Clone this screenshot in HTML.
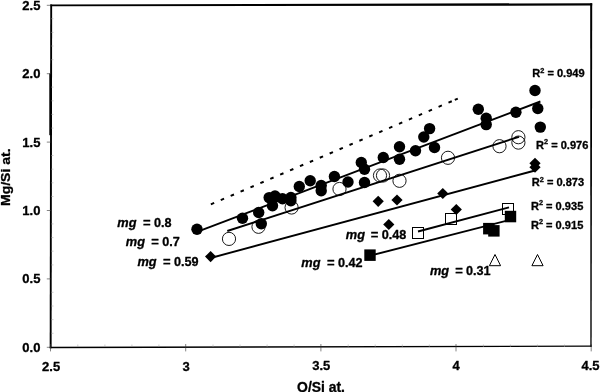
<!DOCTYPE html>
<html><head><meta charset="utf-8"><title>Mg/Si vs O/Si</title>
<style>html,body{margin:0;padding:0;background:#fff}body{width:600px;height:392px;overflow:hidden}svg{display:block}</style>
</head><body>
<svg width="600" height="392" viewBox="0 0 600 392">
<rect width="600" height="392" fill="#fff"/>
<g fill="#000">
<polygon points="50.25,4.6 592.2,3.15 592.2,5.55 50.25,6.3"/>
<polygon points="590.2,3.2 592.2,3.2 591.65,346.8 590.35,346.8"/>
<polygon points="49.7,346.65 591.65,345.45 591.65,346.75 49.7,348.35"/>
<polygon points="50.25,4.6 52.15,4.6 51.6,348.3 49.7,348.3"/>
<rect x="49.3" y="73.5" width="2.6" height="61.7"/>
</g>
<g stroke="#999" stroke-width="0.5">
<line x1="50.5" y1="344" x2="50.5" y2="351.4" stroke="#333" stroke-width="0.6"/>
<line x1="77.8" y1="344.5" x2="77.8" y2="347"/>
<line x1="104.9" y1="344.5" x2="104.9" y2="347"/>
<line x1="131.9" y1="344.5" x2="131.9" y2="347"/>
<line x1="158.9" y1="344.5" x2="158.9" y2="347"/>
<line x1="185.7" y1="344" x2="185.7" y2="351.4" stroke="#333" stroke-width="0.6"/>
<line x1="213.0" y1="344.5" x2="213.0" y2="347"/>
<line x1="240.0" y1="344.5" x2="240.0" y2="347"/>
<line x1="267.1" y1="344.5" x2="267.1" y2="347"/>
<line x1="294.1" y1="344.5" x2="294.1" y2="347"/>
<line x1="320.9" y1="344" x2="320.9" y2="351.4" stroke="#333" stroke-width="0.6"/>
<line x1="348.2" y1="344.5" x2="348.2" y2="347"/>
<line x1="375.2" y1="344.5" x2="375.2" y2="347"/>
<line x1="402.3" y1="344.5" x2="402.3" y2="347"/>
<line x1="429.3" y1="344.5" x2="429.3" y2="347"/>
<line x1="456.0" y1="344" x2="456.0" y2="351.4" stroke="#333" stroke-width="0.6"/>
<line x1="483.4" y1="344.5" x2="483.4" y2="347"/>
<line x1="510.4" y1="344.5" x2="510.4" y2="347"/>
<line x1="537.4" y1="344.5" x2="537.4" y2="347"/>
<line x1="564.5" y1="344.5" x2="564.5" y2="347"/>
<line x1="591.2" y1="344" x2="591.2" y2="351.4" stroke="#333" stroke-width="0.6"/>
<line x1="46.8" y1="347.3" x2="51" y2="347.3" stroke="#333" stroke-width="0.6"/>
<line x1="51" y1="333.3" x2="53.5" y2="333.3"/>
<line x1="51" y1="319.6" x2="53.5" y2="319.6"/>
<line x1="51" y1="306.0" x2="53.5" y2="306.0"/>
<line x1="51" y1="292.3" x2="53.5" y2="292.3"/>
<line x1="46.8" y1="278.9" x2="51" y2="278.9" stroke="#333" stroke-width="0.6"/>
<line x1="51" y1="264.9" x2="53.5" y2="264.9"/>
<line x1="51" y1="251.2" x2="53.5" y2="251.2"/>
<line x1="51" y1="237.6" x2="53.5" y2="237.6"/>
<line x1="51" y1="223.9" x2="53.5" y2="223.9"/>
<line x1="46.8" y1="210.5" x2="51" y2="210.5" stroke="#333" stroke-width="0.6"/>
<line x1="51" y1="196.5" x2="53.5" y2="196.5"/>
<line x1="51" y1="182.8" x2="53.5" y2="182.8"/>
<line x1="51" y1="169.2" x2="53.5" y2="169.2"/>
<line x1="51" y1="155.5" x2="53.5" y2="155.5"/>
<line x1="46.8" y1="142.1" x2="51" y2="142.1" stroke="#333" stroke-width="0.6"/>
<line x1="51" y1="128.1" x2="53.5" y2="128.1"/>
<line x1="51" y1="114.4" x2="53.5" y2="114.4"/>
<line x1="51" y1="100.8" x2="53.5" y2="100.8"/>
<line x1="51" y1="87.1" x2="53.5" y2="87.1"/>
<line x1="46.8" y1="73.7" x2="51" y2="73.7" stroke="#333" stroke-width="0.6"/>
<line x1="51" y1="59.7" x2="53.5" y2="59.7"/>
<line x1="51" y1="46.0" x2="53.5" y2="46.0"/>
<line x1="51" y1="32.4" x2="53.5" y2="32.4"/>
<line x1="51" y1="18.7" x2="53.5" y2="18.7"/>
<line x1="46.8" y1="5.3" x2="51" y2="5.3" stroke="#333" stroke-width="0.6"/>
</g>
<g stroke="#000" stroke-width="1.9" stroke-linecap="butt">
<line x1="197" y1="231.8" x2="540.4" y2="101.5"/>
<line x1="227.3" y1="231" x2="519" y2="136.8"/>
<line x1="210.6" y1="258" x2="535" y2="170.5"/>
<line x1="418" y1="231.5" x2="509" y2="207.3"/>
<line x1="370" y1="255.7" x2="510" y2="219.8"/>
<line x1="210.85" y1="204.35" x2="452.5" y2="100.9" stroke-width="2" stroke-dasharray="3.6 7.17"/>
<line x1="454.8" y1="99.95" x2="457.8" y2="98.65" stroke-width="2"/>
</g>
<g fill="#fff" stroke="#000" stroke-width="1">
<circle cx="229" cy="238.9" r="6.6" fill="none" stroke-width="0.9"/>
<circle cx="258.5" cy="226.8" r="6.6" fill="none" stroke-width="0.9"/>
<circle cx="291.6" cy="207.5" r="6.6" fill="none" stroke-width="0.9"/>
<circle cx="339.5" cy="189" r="6.6" fill="none" stroke-width="0.9"/>
<circle cx="380" cy="175.5" r="6.6" fill="none" stroke-width="0.9"/>
<circle cx="383" cy="175.5" r="6.6" fill="none" stroke-width="0.9"/>
<circle cx="399.5" cy="180.8" r="6.6" fill="none" stroke-width="0.9"/>
<circle cx="448" cy="157.8" r="6.6" fill="none" stroke-width="0.9"/>
<circle cx="499.5" cy="146.2" r="6.6" fill="none" stroke-width="0.9"/>
<circle cx="518.4" cy="137.2" r="6.6" fill="none" stroke-width="0.9"/>
<circle cx="518.4" cy="142.6" r="6.6" fill="none" stroke-width="0.9"/>
<rect x="412.5" y="227.5" width="11" height="11" fill="none"/>
<rect x="445.5" y="213.5" width="11" height="11" fill="none"/>
<rect x="502.5" y="203.5" width="11" height="11" fill="none"/>
<polygon points="495,254.5 489.4,265.7 500.6,265.7" fill="none"/>
<polygon points="537.5,254.5 531.9,265.7 543.1,265.7" fill="none"/>
</g>
<g fill="#000">
<circle cx="197" cy="229.2" r="5.7"/>
<circle cx="242.5" cy="218.2" r="5.7"/>
<circle cx="258.7" cy="212.5" r="5.7"/>
<circle cx="261.3" cy="223.7" r="5.7"/>
<circle cx="269.2" cy="197.6" r="5.7"/>
<circle cx="275" cy="196" r="5.7"/>
<circle cx="272.5" cy="205.7" r="5.7"/>
<circle cx="282.5" cy="198.7" r="5.7"/>
<circle cx="290.9" cy="197.5" r="5.7"/>
<circle cx="290.9" cy="200.8" r="5.7"/>
<circle cx="299.3" cy="186.5" r="5.7"/>
<circle cx="310.2" cy="180.8" r="5.7"/>
<circle cx="321.2" cy="185.5" r="5.7"/>
<circle cx="321.2" cy="190.7" r="5.7"/>
<circle cx="334.4" cy="176.5" r="5.7"/>
<circle cx="348" cy="182" r="5.7"/>
<circle cx="361.3" cy="162.5" r="5.7"/>
<circle cx="364.5" cy="169.3" r="5.7"/>
<circle cx="364.5" cy="182.5" r="5.7"/>
<circle cx="383.3" cy="157.5" r="5.7"/>
<circle cx="399.5" cy="146.8" r="5.7"/>
<circle cx="399.5" cy="159.3" r="5.7"/>
<circle cx="415.5" cy="150.8" r="5.7"/>
<circle cx="423.8" cy="137" r="5.7"/>
<circle cx="429.6" cy="128.6" r="5.7"/>
<circle cx="434.5" cy="147.5" r="5.7"/>
<circle cx="478.3" cy="109.3" r="5.7"/>
<circle cx="486.2" cy="118.3" r="5.7"/>
<circle cx="486.2" cy="124.6" r="5.7"/>
<circle cx="515.9" cy="112.2" r="5.7"/>
<circle cx="535" cy="90.5" r="5.7"/>
<circle cx="537.8" cy="108.5" r="5.7"/>
<circle cx="540.3" cy="127.1" r="5.7"/>
<polygon points="210.6,251.00000000000003 216.2,256.6 210.6,262.20000000000005 205.0,256.6"/>
<polygon points="378.2,195.70000000000002 383.8,201.3 378.2,206.9 372.59999999999997,201.3"/>
<polygon points="397,194.4 402.6,200 397,205.6 391.4,200"/>
<polygon points="442.8,187.9 448.40000000000003,193.5 442.8,199.1 437.2,193.5"/>
<polygon points="388.8,218.9 394.40000000000003,224.5 388.8,230.1 383.2,224.5"/>
<polygon points="456.3,203.9 461.90000000000003,209.5 456.3,215.1 450.7,209.5"/>
<polygon points="535,157.70000000000002 540.6,163.3 535,168.9 529.4,163.3"/>
<polygon points="535,161.6 540.6,167.2 535,172.79999999999998 529.4,167.2"/>
<rect x="364.3" y="249.4" width="11.4" height="11.5"/>
<rect x="483.1" y="222.9" width="11.4" height="11.5"/>
<rect x="488.2" y="225.1" width="11.4" height="11.5"/>
<rect x="504.8" y="210.8" width="11.4" height="11.5"/>
</g>
<g font-family="'Liberation Sans', Arial, sans-serif" font-weight="bold" fill="#000" stroke="#000" stroke-width="0.3" stroke-linejoin="round">
<g font-size="12.3">
<text transform="translate(40.4,351.8) scale(1.06,1)" text-anchor="end">0.0</text>
<text transform="translate(40.4,283.4) scale(1.06,1)" text-anchor="end">0.5</text>
<text transform="translate(40.4,215.0) scale(1.06,1)" text-anchor="end">1.0</text>
<text transform="translate(40.4,146.6) scale(1.06,1)" text-anchor="end">1.5</text>
<text transform="translate(40.4,78.2) scale(1.06,1)" text-anchor="end">2.0</text>
<text transform="translate(40.4,9.8) scale(1.06,1)" text-anchor="end">2.5</text>
<text transform="translate(51.1,370.90) scale(1.06,1)" text-anchor="middle">2.5</text>
<text transform="translate(186.1,370.67) scale(1.06,1)" text-anchor="middle">3</text>
<text transform="translate(321.2,370.45) scale(1.06,1)" text-anchor="middle">3.5</text>
<text transform="translate(456.2,370.22) scale(1.06,1)" text-anchor="middle">4</text>
<text transform="translate(590.5,370.00) scale(1.06,1)" text-anchor="middle">4.5</text>
<text transform="translate(117.3,227.2) scale(1.04,1)" font-style="italic">mg</text>
<text transform="translate(142.89999999999998,227.2) scale(1.06,1)">=</text>
<text transform="translate(153.89999999999998,227.2) scale(1.03,1)">0.8</text>
<text transform="translate(125.8,246.4) scale(1.04,1)" font-style="italic">mg</text>
<text transform="translate(151.2,246.4) scale(1.06,1)">=</text>
<text transform="translate(162.2,246.4) scale(1.03,1)">0.7</text>
<text transform="translate(137.5,265.9) scale(1.04,1)" font-style="italic">mg</text>
<text transform="translate(162.89999999999998,265.9) scale(1.06,1)">=</text>
<text transform="translate(173.89999999999998,265.9) scale(1.03,1)">0.59</text>
<text transform="translate(345.8,238.5) scale(1.04,1)" font-style="italic">mg</text>
<text transform="translate(370.7,238.5) scale(1.06,1)">=</text>
<text transform="translate(381.7,238.5) scale(1.03,1)">0.48</text>
<text transform="translate(301.3,266.6) scale(1.04,1)" font-style="italic">mg</text>
<text transform="translate(326.9,266.6) scale(1.06,1)">=</text>
<text transform="translate(338.0,266.6) scale(1.03,1)">0.42</text>
<text transform="translate(430,275) scale(1.04,1)" font-style="italic">mg</text>
<text transform="translate(455.2,275) scale(1.06,1)">=</text>
<text transform="translate(466.0,275) scale(1.03,1)">0.31</text>
</g>
<g font-size="10.5">
<text transform="translate(532.2,77.3) scale(1.055,1)">R<tspan dy="-4.6" font-size="7">2</tspan><tspan dy="4.6"> = 0.949</tspan></text>
<text transform="translate(536.0,148.70000000000002) scale(1.055,1)">R<tspan dy="-4.6" font-size="7">2</tspan><tspan dy="4.6"> = 0.976</tspan></text>
<text transform="translate(531.7,186.3) scale(1.055,1)">R<tspan dy="-4.6" font-size="7">2</tspan><tspan dy="4.6"> = 0.873</tspan></text>
<text transform="translate(530.9000000000001,209.8) scale(1.055,1)">R<tspan dy="-4.6" font-size="7">2</tspan><tspan dy="4.6"> = 0.935</tspan></text>
<text transform="translate(530.9000000000001,229.0) scale(1.055,1)">R<tspan dy="-4.6" font-size="7">2</tspan><tspan dy="4.6"> = 0.915</tspan></text>
</g>
<text x="297.1" y="391.6" font-size="13.9">O/Si at.</text>
<text transform="translate(9.7,206.0) rotate(-90)" font-size="11.9" textLength="57.6" lengthAdjust="spacingAndGlyphs">Mg/Si at.</text>
</g>
</svg>
</body></html>
